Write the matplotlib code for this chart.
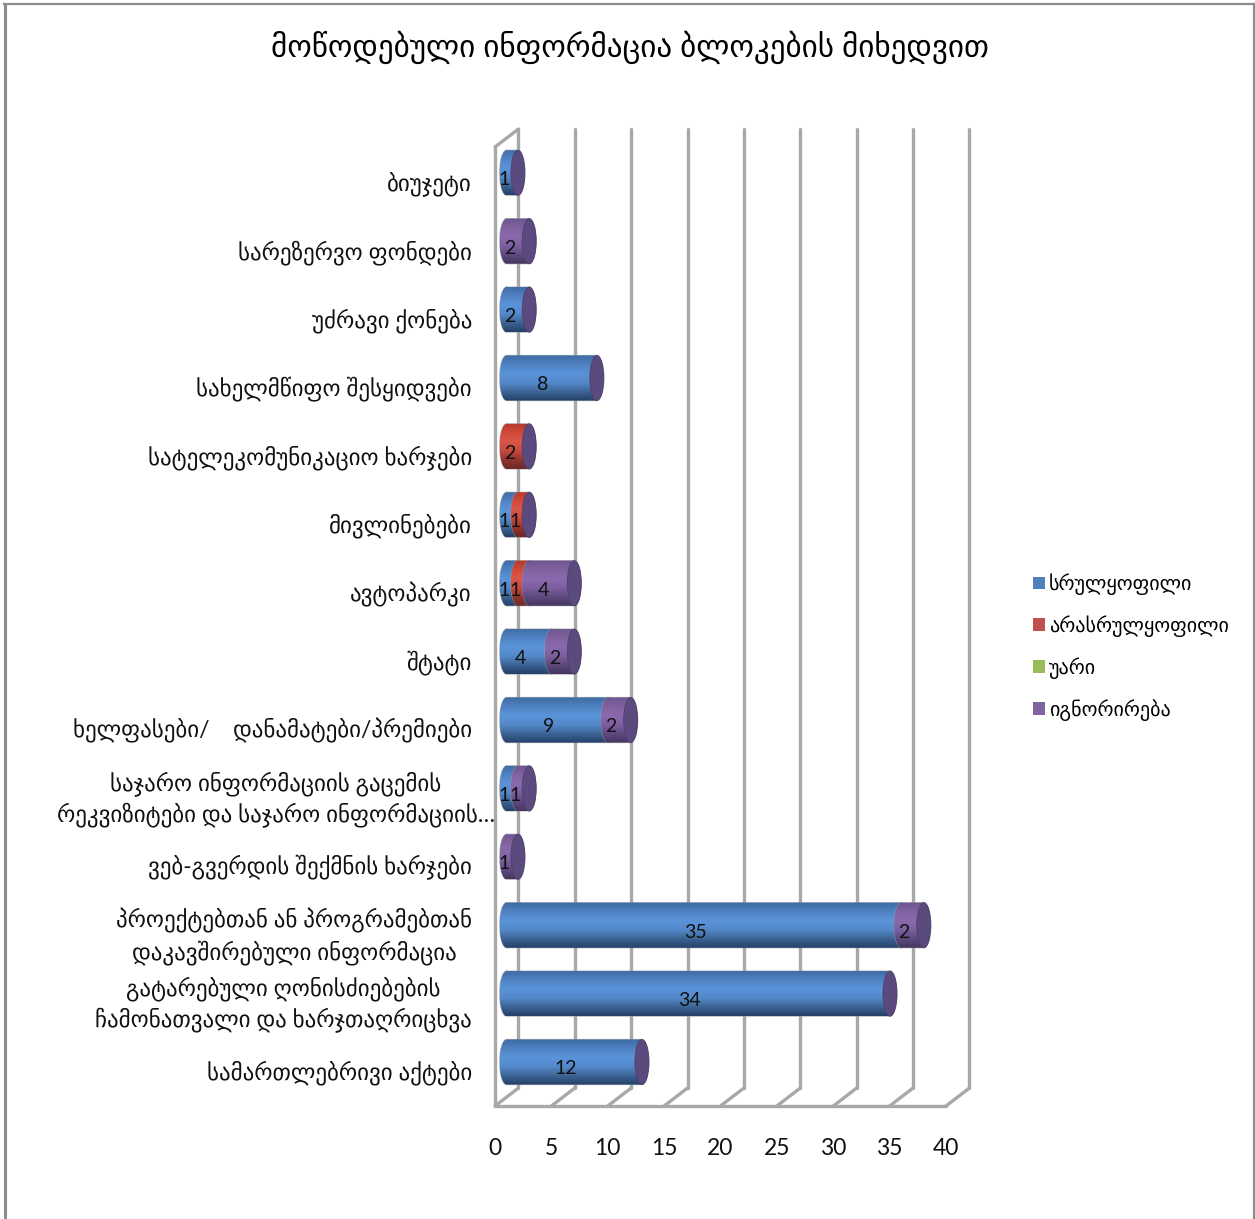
#!/usr/bin/env python3
"""Horizontal stacked cylinders, drawn by hand because matplotlib has no 3D-look bars."""
import numpy as np
import matplotlib
matplotlib.use("Agg")
import matplotlib.pyplot as plt
from matplotlib.colors import LinearSegmentedColormap
from matplotlib.lines import Line2D
from matplotlib.patches import Ellipse, Patch
from matplotlib.path import Path

W, H = 1255, 1219

title = "მოწოდებული ინფორმაცია ბლოკების მიხედვით"
categories = [
    "ბიუჯეტი",
    "სარეზერვო ფონდები",
    "უძრავი ქონება",
    "სახელმწიფო შესყიდვები",
    "სატელეკომუნიკაციო ხარჯები",
    "მივლინებები",
    "ავტოპარკი",
    "შტატი",
    "ხელფასები/    დანამატები/პრემიები",
    "საჯარო ინფორმაციის გაცემის\nრეკვიზიტები და საჯარო ინფორმაციის…",
    "ვებ-გვერდის შექმნის ხარჯები",
    "პროექტებთან ან პროგრამებთან\nდაკავშირებული ინფორმაცია",
    "გატარებული ღონისძიებების\nჩამონათვალი და ხარჯთაღრიცხვა",
    "სამართლებრივი აქტები",
]
full = [1, 0, 2, 8, 0, 1, 1, 4, 9, 1, 0, 35, 34, 12]
partial = [0, 0, 0, 0, 2, 1, 1, 0, 0, 0, 0, 0, 0, 0]
refused = [0] * 14
ignored = [0, 2, 0, 0, 0, 0, 4, 2, 2, 1, 1, 2, 0, 0]
series_names = ["სრულყოფილი", "არასრულყოფილი", "უარი", "იგნორირება"]
legend_colors = ["#4f81bd", "#c0504d", "#9bbb59", "#8064a2"]
gradients = [
    ["#3e6ba3", "#4f82c2", "#5b93da", "#548aca", "#3d6596", "#24406a"],
    ["#b5372c", "#d04a3a", "#d9574a", "#c54b40", "#94352e", "#6b2826"],
    ["#7d9a3f", "#9bbb59", "#a6c766", "#94b254", "#6f8a3c", "#4f632b"],
    ["#6d5590", "#80639f", "#8a69ad", "#7d60a0", "#5f4a80", "#44365f"],
]

GRID = "#a8a8a8"
DEPTH_X, DEPTH_Y = 2.08, 0.263   # back wall offset, in data units
BAR_X0 = 1.03                    # bar start, in value units
RX, RY = 0.62, 0.33              # cap ellipse half axes


def cylinder_path(x0, x1, y):
    t = np.linspace(-np.pi / 2, np.pi / 2, 40)
    left = np.column_stack([x0 - RX * np.cos(t), y + RY * np.sin(t)])
    right = np.column_stack([x1 + RX * np.cos(t[::-1]), y + RY * np.sin(t[::-1])])
    pts = np.vstack([left, right, left[:1]])
    return Path(pts, closed=True)


def draw_segment(ax, x0, x1, y, cmap, z):
    g = np.linspace(0, 1, 64).reshape(-1, 1)
    im = ax.imshow(g, cmap=cmap, aspect="auto", zorder=z, interpolation="bilinear",
                   extent=(x0 - RX, x1 + RX, y + RY, y - RY), clip_on=True)
    p = cylinder_path(x0, x1, y)
    im.set_clip_path(p, transform=ax.transData)
    ax.plot(p.vertices[:, 0], p.vertices[:, 1], color="#9a9a9a", lw=0.8, alpha=0.7, zorder=z - 0.1)


plt.rcParams["font.family"] = ["Lato", "DejaVu Sans"]
fig = plt.figure(figsize=(W / 100, H / 100), dpi=100, facecolor="white")
ax = fig.add_axes([495 / W, (H - 1106) / H, 451 / W, 959 / H])

# window frame of the original slide
top = H - 4
for xs, ys, lw in [([4.5, 4.5], [0, top], 2.2), ([4, W - 1], [top, top], 1.6), ([W - 1, W - 1], [0, top], 1.6)]:
    fig.add_artist(Line2D(np.array(xs) / W, np.array(ys) / H, color="#8c8c8c", lw=lw))

ymin, ymax = 13.643, -0.377
ticks = np.arange(0, 45, 5)

# walls and floor
kw = dict(color=GRID, lw=2.4, clip_on=False, zorder=1, solid_capstyle="round")
for v in ticks:
    ax.plot([v, v + DEPTH_X], [ymin, ymin - DEPTH_Y], **kw)
    ax.plot([v + DEPTH_X] * 2, [ymin - DEPTH_Y, ymax - DEPTH_Y], **kw)
ax.plot([0, 0], [ymin, ymax], **kw)
ax.plot([0, DEPTH_X], [ymax, ymax - DEPTH_Y], **kw)
ax.plot([0, 40], [ymin, ymin], **kw)

columns = [full, partial, refused, ignored]
cmaps = [LinearSegmentedColormap.from_list(f"s{i}", g) for i, g in enumerate(gradients)]

for i in range(len(categories)):
    start = 0
    z = 3
    for vals, cmap in zip(columns, cmaps):
        v = vals[i]
        if v == 0:
            continue
        draw_segment(ax, BAR_X0 + start, BAR_X0 + start + v, i, cmap, z)
        ax.text(0.27 + start + v / 2, i + 0.1, str(v), ha="center", va="center",
                fontsize=14, color="#111111", zorder=20)
        start += v
        z += 1
    ax.add_patch(Ellipse((BAR_X0 + start, i), 2 * RX, 2 * RY, facecolor="#5b4a7e",
                         edgecolor="#4f4070", lw=0.6, zorder=12))
    # label block
    dx = -0.02 if "…" in categories[i] else -2.04
    ax.text(dx, i + 0.16, categories[i], ha="right", va="center", multialignment="center",
            fontsize=16.6, linespacing=1.36, color="#111111", clip_on=False)

ax.set_xlim(0, 40)
ax.set_ylim(ymin, ymax)
ax.set_xticks(ticks)
ax.set_yticks([])
ax.tick_params(axis="x", length=0, pad=23, labelsize=16.5, labelcolor="#111111")
ax.patch.set_visible(False)
for s in ax.spines.values():
    s.set_visible(False)

fig.text(630 / W, (H - 47) / H, title, ha="center", va="center", fontsize=22.4, color="black")

handles = [Patch(facecolor=c, edgecolor="none") for c in legend_colors]
fig.legend(handles, series_names, loc="center left", bbox_to_anchor=(1033 / W, (H - 647) / H),
           frameon=False, fontsize=14.5, handlelength=0.6, handleheight=0.6,
           handletextpad=0.2, labelspacing=1.0, borderpad=0, borderaxespad=0)

fig.savefig("out.png", dpi=100)
